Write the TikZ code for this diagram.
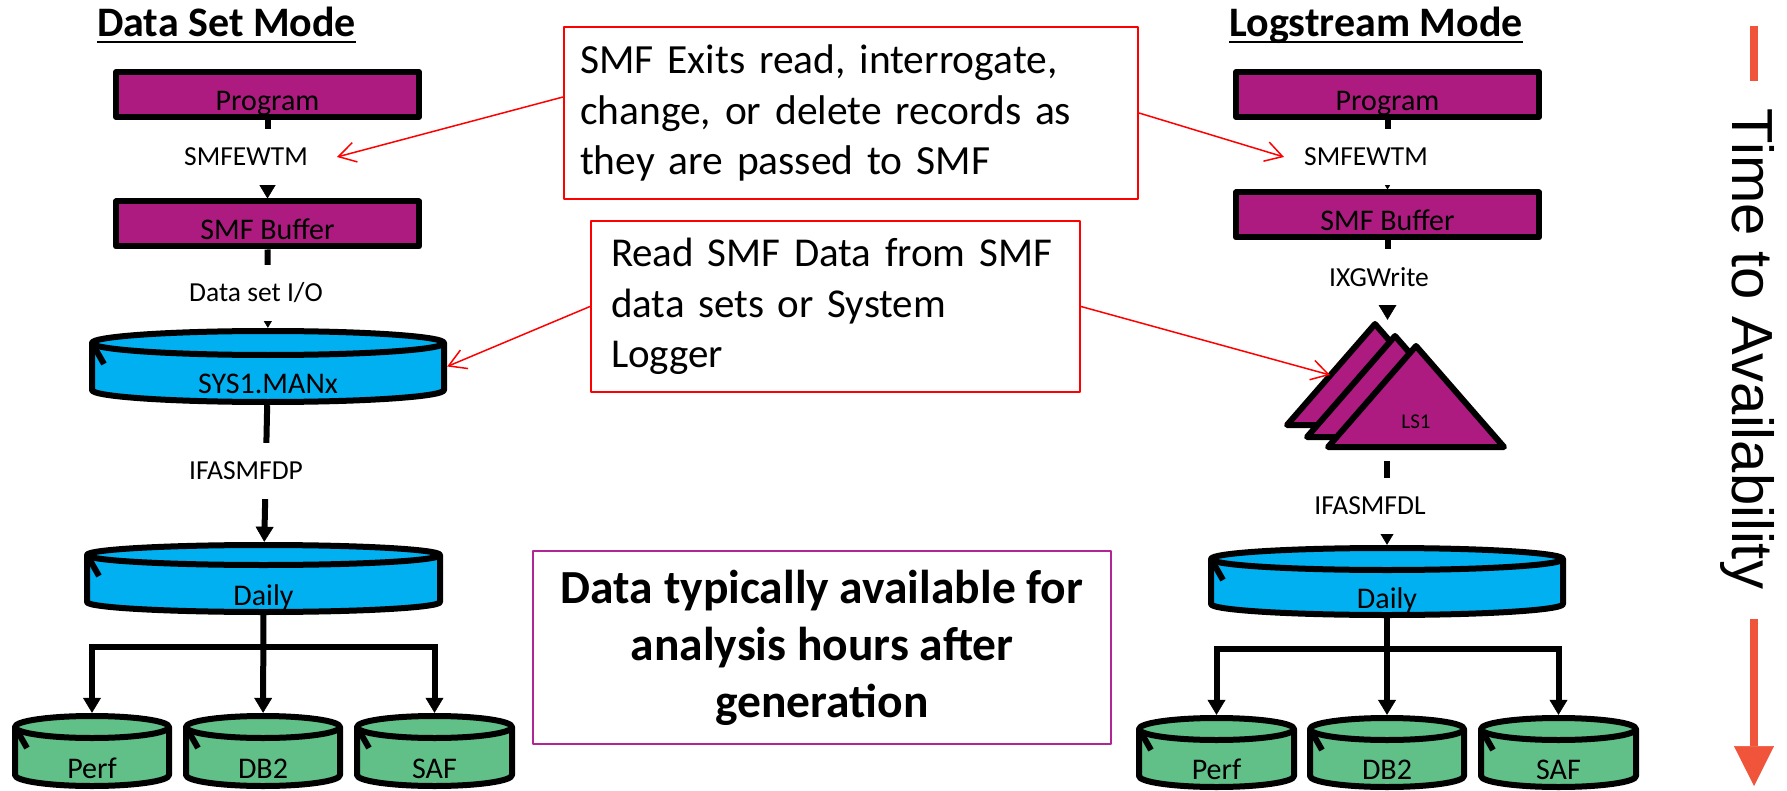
\documentclass[tikz,border=0pt]{standalone}
\usepackage{fontspec}
\setmainfont{Carlito}
\newfontfamily\timefont{Liberation Sans}
\usetikzlibrary{arrows.meta}

\definecolor{smfpurple}{RGB}{173,27,128}
\definecolor{smfblue}{RGB}{0,176,240}
\definecolor{smfgreen}{RGB}{96,192,136}
\definecolor{notered}{RGB}{255,0,0}
\definecolor{notepurple}{RGB}{176,38,150}
\definecolor{timeorange}{RGB}{240,84,58}

\begin{document}
\begin{tikzpicture}[
  x=1pt, y=-1pt,
  line join=round,
  sysbox/.style={draw=black, line width=6pt, fill=smfpurple, minimum width=303pt, minimum height=45pt,
    inner sep=0pt, text height=32pt, text depth=0pt, font=\fontsize{30}{36}\selectfont},
  canline/.style={draw=black, line width=6pt},
  cantext/.style={inner sep=0pt, text height=54pt, text depth=0pt, font=\fontsize{30}{36}\selectfont},
  flow/.style={-{Triangle[length=15pt,width=18pt,line width=0.5pt]}, line width=6pt, line join=miter},
  lbl/.style={fill=white, inner sep=0pt, minimum height=56pt, font=\fontsize{27.5}{33}\selectfont},
  title/.style={inner sep=0pt, anchor=base, font=\bfseries\fontsize{42}{50}\selectfont},
  note/.style={draw=notered, line width=2pt, fill=white, inner xsep=16pt, inner ysep=0pt, align=left,
    font=\fontsize{41.5}{50.5}\selectfont},
  avail/.style={draw=notepurple, line width=2pt, minimum width=578pt, minimum height=193pt, inner sep=0pt,
    align=center, font=\bfseries\fontsize{47.5}{57}\selectfont},
  pointer/.style={-{Straight Barb[length=17pt,width=20pt]}, draw=notered, line width=1.5pt},
  timebar/.style={draw=timeorange, line width=8pt}
]
\useasboundingbox (0,0) rectangle (1787,791);

% Mode titles.
\node[title] (dsTitle) at (226.5,37) {Data Set Mode};
\node[title] (lsTitle) at (1376,37) {Logstream Mode};
\foreach \ttl in {dsTitle,lsTitle}{
  \draw[line width=2.5pt] ([yshift=-5pt]\ttl.base west) -- ([yshift=-5pt]\ttl.base east);
}

% Program and buffer boxes.
\node[sysbox] (progL) at (267.5,94.5) {Program};
\node[sysbox] (bufL) at (267.5,224) {SMF Buffer};
\node[sysbox] (progR) at (1387.5,94.5) {Program};
\node[sysbox] (bufR) at (1387.5,215) {SMF Buffer};

% Disks: name / box / rim / fill / text.
\foreach \cname/\xa/\ya/\xb/\yb/\rim/\cfill/\ctext in {
    manL/89/328/447/405/12/smfblue/SYS1.MANx,
    dailyL/84/542/443/615/10/smfblue/Daily,
    dailyR/1208/545/1566/618/11/smfblue/Daily,
    perfL/12/713/172/789/11/smfgreen/Perf,
    db2L/183/713/343/789/11/smfgreen/DB2,
    safL/354/713/515/789/11/smfgreen/SAF,
    perfR/1136/715/1297/790/11/smfgreen/Perf,
    db2R/1307/715/1467/790/11/smfgreen/DB2,
    safR/1478/715/1639/790/11/smfgreen/SAF}{
  \pgfmathsetmacro{\canRx}{(\xb-\xa)/2-3}
  \pgfmathsetmacro{\canTop}{\ya+3+\rim}
  \pgfmathsetmacro{\canBot}{\yb-3-\rim}
  \pgfmathsetmacro{\canL}{\xa+3}
  \pgfmathsetmacro{\canR}{\xb-3}
  \draw[canline, fill=\cfill] (\canL,\canTop) -- (\canL,\canBot)
    arc[start angle=180, end angle=0, x radius=\canRx, y radius=\rim] -- (\canR,\canTop)
    arc[start angle=0, end angle=-180, x radius=\canRx, y radius=\rim] -- cycle;
  \draw[canline] (\canL,\canTop) arc[start angle=180, end angle=0, x radius=\canRx, y radius=\rim];
  \draw[canline] (\canL,\canTop) -- ++(12,21);
  \node[cantext, minimum width={(\xb-\xa)*1pt}, minimum height={(\yb-\ya)*1pt}] (\cname)
    at ({(\xa+\xb)/2},{(\ya+\yb)/2}) {\ctext};
}

% Log stream triangles.
\foreach \ax/\ay in {1375/324,1395/336,1416/346}{
  \draw[canline, fill=smfpurple] (\ax,\ay) -- (\ax+88,\ay+101) -- (\ax-88,\ay+101) -- cycle;
}
\node[inner sep=0pt, minimum width=226pt, minimum height=130pt] (logstream) at (1397,385) {};
\node[anchor=base, inner sep=0pt, font=\fontsize{21}{25}\selectfont] (lsName) at (1416,428) {LS1};

% Flow connectors.
\draw[flow] (progL) -- (bufL);
\draw[flow] (bufL) -- (manL);
\draw[flow] (manL) -- (dailyL);
\draw[flow] (dailyL) -- (db2L);
\coordinate (forkL) at ([yshift=-32pt]dailyL.south);
\draw[flow] (forkL) -| (perfL);
\draw[flow] (forkL) -| (safL);

\draw[flow] (progR) -- (bufR);
\draw[flow] (bufR.south) -- (bufR.south |- logstream.north);
\draw[flow, shorten <=11pt] (logstream.south -| dailyR.north) -- (dailyR);
\draw[flow] (dailyR) -- (db2R);
\coordinate (forkR) at ([yshift=-31pt]dailyR.south);
\draw[flow] (forkR) -| (perfR);
\draw[flow] (forkR) -| (safR);

% Connector labels.
\node[lbl] (ewtmL) at (246,157) {SMFEWTM};
\node[lbl] (dsioL) at (256,293) {Data set I/O};
\node[lbl] (dumpL) at (246,471) {IFASMFDP};
\node[lbl] (ewtmR) at (1366,157) {SMFEWTM};
\node[lbl] (ixgR) at (1379,277) {IXGWrite};
\node[lbl] (dumpR) at (1370,506) {IFASMFDL};

% Notes.
\node[note, text width=542pt, minimum height=172pt] (exitNote) at (851,113)
  {SMF Exits read, interrogate,\\change, or delete records as\\they are passed to SMF};
\node[note, inner xsep=20pt, text width=449pt, minimum height=171pt, font=\fontsize{41}{50.5}\selectfont]
  (readNote) at (835.5,306.5) {Read SMF Data from SMF\\data sets or System\\Logger};
\node[avail] (availNote) at (822,647.5)
  {Data typically available for\\analysis hours after\\generation};

\coordinate (lsSide) at (1330,375);
\draw[pointer] ([yshift=16pt]exitNote.west) -- ([xshift=29pt]ewtmL.east);
\draw[pointer] (exitNote.east) -- ([xshift=-20pt]ewtmR.west);
\draw[pointer] (readNote.west) -- (manL.east);
\draw[pointer] (readNote.east) -- (lsSide);

% Time axis.
\node[rotate=-90, anchor=base, inner sep=0pt, font=\timefont\fontsize{58}{70}\selectfont] (timeTxt)
  at (1732,349) {Time to Availability};
\coordinate (barTop) at (1754,26);
\coordinate (barEnd) at (1754,81);
\draw[timebar] (barTop) -- (barEnd);
\coordinate (arrTop) at (1754,619);
\coordinate (arrTip) at (1754,786);
\draw[timebar, -{Triangle[length=40pt,width=40pt,line width=0.5pt]}] (arrTop) -- (arrTip);

\end{tikzpicture}
\end{document}
